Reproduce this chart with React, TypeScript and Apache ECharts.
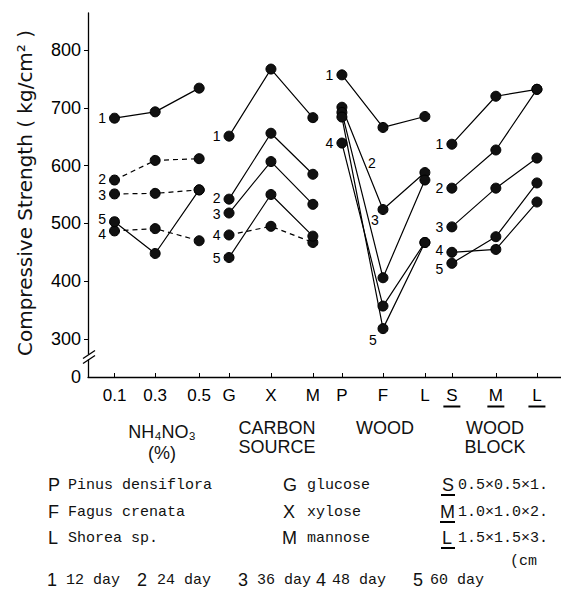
import React, { useEffect, useRef } from 'react';
import * as echarts from 'echarts';

// x positions of the 12 categories (value-axis units), and their tick labels
const xPositions = [0.94, 1.92, 2.98, 3.7, 4.71, 5.72, 6.42, 7.41, 8.42, 9.07, 10.13, 11.12];
const xLabels = ['0.1', '0.3', '0.5', 'G', 'X', 'M', 'P', 'F', 'L', 'S', 'M', 'L'];
const underlinedLabels = [9, 10, 11];

const yMin = 234.3; // shown as "0" after the axis break
const yMax = 864;
const yTicks = [300, 400, 500, 600, 700, 800];

const dayNames = ['1', '2', '3', '4', '5'];

// Compressive strength (kg/cm²), rows = day 1..5, columns = 3 categories of the group
const nh4Values = [
  [682, 693, 734],
  [575, 609, 612],
  [551, 552, 558],
  [487, 491, 470],
  [503, 448, 558],
];
const carbonValues = [
  [651, 767, 683],
  [542, 656, 585],
  [518, 607, 533],
  [480, 495, 467],
  [441, 550, 478],
];
const woodValues = [
  [757, 666, 685],
  [701, 524, 588],
  [692, 406, 575],
  [639, 357, 467],
  [684, 318, 467],
];
const blockValues = [
  [637, 720, 732],
  [561, 627, 732],
  [494, 561, 613],
  [450, 455, 537],
  [431, 477, 570],
];
const groups = [nh4Values, carbonValues, woodValues, blockValues];

// which day lines are dashed in each group
const dashed = [
  [false, true, true, true, false],
  [false, false, false, true, false],
  [false, false, false, false, false],
  [false, false, false, false, false],
];

const SANS = "'Liberation Sans', 'DejaVu Sans', sans-serif";
const MONO = "'Liberation Mono', 'DejaVu Sans Mono', monospace";

// label placement for each group/day: [pointIndex, position, offset]
type LabelSpec = [number, string, [number, number]];
const labelSpecs: LabelSpec[][] = [
  [[0, 'left', [0, 0]], [0, 'left', [0, -1]], [0, 'left', [0, 1]], [0, 'left', [0, 3]], [0, 'left', [0, -3]]],
  [[0, 'left', [0, 0]], [0, 'left', [0, -1]], [0, 'left', [0, 1]], [0, 'left', [0, 0]], [0, 'left', [0, 0]]],
  [[0, 'left', [0, 0]], [1, 'inside', [-11, -47]], [1, 'inside', [-8, -58]], [0, 'left', [0, 0]], [1, 'inside', [-10, 11]]],
  [[0, 'left', [0, 0]], [0, 'left', [0, 0]], [0, 'left', [0, 0]], [0, 'left', [0, -2]], [0, 'left', [0, 6]]],
];

function buildSeries() {
  const series: any[] = [];
  groups.forEach((vals, g) => {
    vals.forEach((row, d) => {
      const spec = labelSpecs[g][d];
      series.push({
        type: 'line',
        name: `g${g}d${d}`,
        symbol: 'circle',
        symbolSize: 10,
        itemStyle: { color: '#111', borderColor: '#000', borderWidth: 1 },
        lineStyle: { color: '#000', width: 1.2, type: dashed[g][d] ? [5, 4] : 'solid' },
        emphasis: { disabled: true },
        data: row.map((v, i) => {
          const item: any = { value: [xPositions[g * 3 + i], v] };
          if (i === spec[0]) {
            item.label = {
              show: true,
              position: spec[1],
              distance: 3,
              offset: spec[2],
              formatter: dayNames[d],
              fontSize: 14,
              lineHeight: 11,
              fontFamily: SANS,
              color: '#000',
            };
          }
          return item;
        }),
      });
    });
  });
  return series;
}

function legendText(x: number, y: number, text: string, mono: boolean, size?: number) {
  return {
    type: 'text',
    x,
    y,
    style: {
      text,
      fill: '#111',
      font: `${size ?? (mono ? 15 : 18)}px ${mono ? MONO : SANS}`,
      textVerticalAlign: 'middle',
      textAlign: 'left',
    },
  };
}

export default function App() {
  const ref = useRef<HTMLDivElement>(null);
  useEffect(() => {
    if (!ref.current) return;
    const chart = echarts.init(ref.current, undefined, { renderer: 'svg' });
    const option: any = {
      animation: false,
      backgroundColor: '#fff',
      grid: { left: 88, right: 0, top: 13, bottom: 212, containLabel: false, outerBoundsMode: 'none' },
      xAxis: {
        type: 'value',
        min: 0.301,
        max: 11.7,
        axisLine: { show: true, lineStyle: { color: '#000', width: 1.3 } },
        axisTick: { show: true, inside: true, length: 4, customValues: xPositions, lineStyle: { color: '#000' } },
        splitLine: { show: false },
        axisLabel: {
          customValues: xPositions,
          margin: 8,
          formatter: (v: number) => {
            const idx = xPositions.findIndex((p) => Math.abs(p - v) < 1e-6);
            if (idx < 0) return '';
            if (underlinedLabels.includes(idx)) return `{t|${xLabels[idx]}}\n{u| }`;
            return `{t|${xLabels[idx]}}`;
          },
          rich: {
            t: { fontSize: 17, fontFamily: SANS, color: '#000', lineHeight: 20 },
            u: { width: 17, height: 2, lineHeight: 3, backgroundColor: '#000', fontSize: 1 },
          },
        },
      },
      yAxis: {
        type: 'value',
        min: yMin,
        max: yMax,
        axisLine: { show: true, lineStyle: { color: '#000', width: 1.3 } },
        axisTick: { show: true, inside: false, length: 4, customValues: yTicks, lineStyle: { color: '#000' } },
        splitLine: { show: false },
        axisLabel: {
          customValues: [yMin, ...yTicks],
          margin: 7,
          fontSize: 18,
          fontFamily: SANS,
          color: '#000',
          formatter: (v: number) => (Math.abs(v - yMin) < 0.01 ? '0' : String(Math.round(v))),
        },
      },
      series: buildSeries(),
    };
    chart.setOption(option);

    const yb = chart.convertToPixel({ yAxisIndex: 0 }, 268) as number;
    const xb = chart.convertToPixel({ xAxisIndex: 0 }, 0.301) as number;
    const graphic: any[] = [
      {
        type: 'text',
        x: 25,
        y: 193,
        rotation: Math.PI / 2,
        style: {
          text: 'Compressive Strength ( kg/cm² )',
          font: "20px 'DejaVu Sans', sans-serif",
          fill: '#111',
          textAlign: 'center',
          textVerticalAlign: 'middle',
        },
      },
      // axis break marks
      { type: 'rect', shape: { x: xb - 3, y: yb - 3, width: 6, height: 5 }, style: { fill: '#fff' }, z: 10 },
      { type: 'line', shape: { x1: xb - 5, y1: yb + 1, x2: xb + 7, y2: yb - 7 }, style: { stroke: '#000', lineWidth: 1.3 }, z: 11 },
      { type: 'line', shape: { x1: xb - 5, y1: yb + 6, x2: xb + 7, y2: yb - 2 }, style: { stroke: '#000', lineWidth: 1.3 }, z: 11 },
      // group titles
      {
        type: 'text', x: 162, y: 442,
        style: { text: 'NH₄NO₃\n(%)', font: `18px ${SANS}`, fill: '#111', textAlign: 'center', textVerticalAlign: 'middle', lineHeight: 21 },
      },
      {
        type: 'text', x: 277, y: 437,
        style: { text: 'CARBON\nSOURCE', font: `18px ${SANS}`, fill: '#111', textAlign: 'center', textVerticalAlign: 'middle', lineHeight: 19 },
      },
      {
        type: 'text', x: 385, y: 428,
        style: { text: 'WOOD', font: `18px ${SANS}`, fill: '#111', textAlign: 'center', textVerticalAlign: 'middle' },
      },
      {
        type: 'text', x: 495, y: 437,
        style: { text: 'WOOD\nBLOCK', font: `18px ${SANS}`, fill: '#111', textAlign: 'center', textVerticalAlign: 'middle', lineHeight: 19 },
      },
      // legend
      legendText(48, 485, 'P', false), legendText(68, 485, 'Pinus densiflora', true),
      legendText(48, 512, 'F', false), legendText(68, 512, 'Fagus crenata', true),
      legendText(48, 538, 'L', false), legendText(68, 538, 'Shorea sp.', true),
      legendText(283, 485, 'G', false), legendText(307, 485, 'glucose', true),
      legendText(283, 512, 'X', false), legendText(307, 512, 'xylose', true),
      legendText(282, 538, 'M', false), legendText(307, 538, 'mannose', true),
      legendText(442, 485, 'S', false), legendText(458, 485, '0.5×0.5×1.', true),
      legendText(440, 512, 'M', false), legendText(458, 512, '1.0×1.0×2.', true),
      legendText(442, 538, 'L', false), legendText(458, 538, '1.5×1.5×3.', true),
      legendText(510, 561, '(cm', true),
      { type: 'line', shape: { x1: 441, y1: 495, x2: 455, y2: 495 }, style: { stroke: '#000', lineWidth: 2 } },
      { type: 'line', shape: { x1: 440, y1: 522, x2: 455, y2: 522 }, style: { stroke: '#000', lineWidth: 2 } },
      { type: 'line', shape: { x1: 441, y1: 548, x2: 455, y2: 548 }, style: { stroke: '#000', lineWidth: 2 } },
      legendText(47, 580, '1', false), legendText(66, 580, '12 day', true),
      legendText(137, 580, '2', false), legendText(157, 580, '24 day', true),
      legendText(238, 580, '3', false), legendText(257, 580, '36 day', true),
      legendText(316, 580, '4', false), legendText(332, 580, '48 day', true),
      legendText(413, 580, '5', false), legendText(430, 580, '60 day', true),
    ];
    chart.setOption({ graphic });
    return () => chart.dispose();
  }, []);
  return <div ref={ref} style={{ position: 'absolute', left: 0, top: 0, width: 561, height: 589 }} />;
}
